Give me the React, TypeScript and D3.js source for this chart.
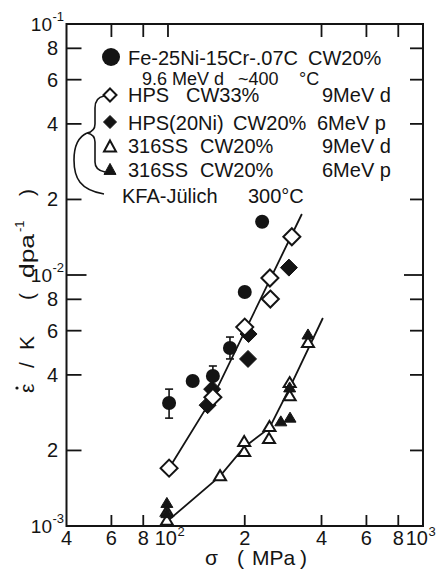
import React from 'react';
import * as d3 from 'd3';

const W = 436;
const H = 571;

// axis ticks
const xTickValues = [40, 60, 80, 100, 200, 400, 600, 800, 1000];
const xTickText = ['4', '6', '8', '10', '2', '4', '6', '8', '10'];
const xTickExp = ['', '', '', '2', '', '', '', '', '3'];
const xBottomMarks = [60, 80, 100, 200, 400, 600, 800];
const xTopMarks = [60, 80, 100, 400, 600, 800];

const yTickValues = [1e-3, 2e-3, 4e-3, 6e-3, 8e-3, 1e-2, 2e-2, 4e-2, 6e-2, 8e-2, 1e-1];
const yTickText = ['10', '2', '4', '6', '8', '10', '2', '4', '6', '8', '10'];
const yTickExp = ['-3', '', '', '', '', '-2', '', '', '', '', '-1'];
const yMarks = [2e-3, 4e-3, 6e-3, 8e-3, 1e-2, 2e-2, 4e-2, 6e-2, 8e-2];

// Fe-25Ni-15Cr-.07C CW20% (filled circles)
const feX = [101, 125, 150, 175, 200, 234];
const feY = [3.09e-3, 3.78e-3, 3.96e-3, 5.12e-3, 8.56e-3, 16.3e-3];
const feErrLo = [2.69e-3, 0, 3.55e-3, 4.63e-3, 0, 0];
const feErrHi = [3.51e-3, 0, 4.34e-3, 5.66e-3, 0, 0];

// HPS CW33% 9MeV d (open diamonds)
const hpsX = [101, 150, 200, 251, 252, 306];
const hpsY = [1.7e-3, 3.26e-3, 6.2e-3, 9.73e-3, 8.02e-3, 14.2e-3];

// HPS(20Ni) CW20% 6MeV p (filled diamonds)
const hps20X = [143, 149, 207, 206, 298];
const hps20Y = [3.03e-3, 3.51e-3, 5.82e-3, 4.63e-3, 10.7e-3];

// 316SS CW20% 9MeV d (open triangles)
const ss9X = [99, 99, 160, 199, 199, 249, 250, 300, 300, 354];
const ss9Y = [1.05e-3, 1.14e-3, 1.58e-3, 1.97e-3, 2.16e-3, 2.22e-3, 2.48e-3, 3.71e-3, 3.29e-3, 5.36e-3];

// 316SS CW20% 6MeV p (filled triangles)
const ss6X = [99, 99, 300, 277, 301, 354];
const ss6Y = [1.23e-3, 1.12e-3, 3.55e-3, 2.6e-3, 2.69e-3, 5.77e-3];

// fitted lines
const hpsLineX = [101, 150, 335];
const hpsLineY = [1.7e-3, 3.26e-3, 17.5e-3];
const ssLineX = [100, 160, 199, 250, 300, 405];
const ssLineY = [1.05e-3, 1.58e-3, 2.06e-3, 2.46e-3, 3.55e-3, 6.74e-3];

const FONT = '"Liberation Sans", Arial, sans-serif';
const INK = '#141414';

const diamond = (cx: number, cy: number, r: number) =>
  `M${cx},${cy - r}L${cx + r},${cy}L${cx},${cy + r}L${cx - r},${cy}Z`;
const tri = (cx: number, cy: number, w: number, h: number) =>
  `M${cx},${cy - h * 0.6}L${cx + w / 2},${cy + h * 0.4}L${cx - w / 2},${cy + h * 0.4}Z`;

export default function App() {
  const x = d3.scaleLog().domain([40, 1000]).range([66.5, 423]);
  const y = d3.scaleLog().domain([1e-3, 1e-1]).range([526, 24]);
  const line = d3
    .line<[number, number]>()
    .x((d) => x(d[0]))
    .y((d) => y(d[1]));

  const hpsLine = hpsLineX.map((v, i) => [v, hpsLineY[i]] as [number, number]);
  const ssLine = ssLineX.map((v, i) => [v, ssLineY[i]] as [number, number]);

  const left = x(40);
  const right = x(1000);
  const top = y(1e-1);
  const bottom = y(1e-3);

  return (
    <svg
      width={W}
      height={H}
      viewBox={`0 0 ${W} ${H}`}
      style={{ position: 'absolute', left: 0, top: 0, background: '#fff' }}
      fontFamily={FONT}
    >
      <rect x={0} y={0} width={W} height={H} fill="#fff" />
      {/* frame */}
      <rect x={left} y={top} width={right - left} height={bottom - top} fill="none" stroke={INK} strokeWidth={2} />

      {/* x ticks */}
      {xBottomMarks.map((v) => (
        <line key={'xb' + v} x1={x(v)} x2={x(v)} y1={bottom} y2={bottom - 11} stroke={INK} strokeWidth={1.8} />
      ))}
      {xTopMarks.map((v) => (
        <line key={'xt' + v} x1={x(v)} x2={x(v)} y1={top} y2={top + 13} stroke={INK} strokeWidth={1.8} />
      ))}
      {xTickValues.map((v, i) => {
        const exp = xTickExp[i];
        if (!exp) {
          return (
            <text key={'xl' + i} x={x(v)} y={545} fontSize={20} textAnchor="middle" fill={INK}>
              {xTickText[i]}
            </text>
          );
        }
        const off = v === 1000 ? 5 : 9;
        return (
          <g key={'xl' + i}>
            <text x={x(v) + off} y={545} fontSize={20} textAnchor="end" fill={INK}>
              {xTickText[i]}
            </text>
            <text x={x(v) + off + 0.5} y={536} fontSize={13} textAnchor="start" fill={INK}>
              {exp}
            </text>
          </g>
        );
      })}

      {/* y ticks */}
      {yMarks.map((v) => {
        const long = v === 1e-2;
        return (
          <g key={'ym' + v}>
            <line x1={left} x2={left + (long ? 20 : 15)} y1={y(v)} y2={y(v)} stroke={INK} strokeWidth={1.8} />
            <line x1={right} x2={right - (long ? 19 : 13)} y1={y(v)} y2={y(v)} stroke={INK} strokeWidth={1.8} />
          </g>
        );
      })}
      {yTickValues.map((v, i) => {
        const exp = yTickExp[i];
        if (!exp) {
          return (
            <text key={'yl' + i} x={58} y={y(v) + 7} fontSize={20} textAnchor="end" fill={INK}>
              {yTickText[i]}
            </text>
          );
        }
        return (
          <g key={'yl' + i}>
            <text x={52} y={y(v) + 7} fontSize={19} textAnchor="end" fill={INK}>
              {yTickText[i]}
            </text>
            <text x={52.5} y={y(v) - 3} fontSize={13} textAnchor="start" fill={INK}>
              {exp}
            </text>
          </g>
        );
      })}

      {/* y axis title, pieces along the rotated baseline */}
      <g transform="translate(34,0) rotate(-90)" fontSize={21} fill={INK}>
        <text x={-393}>ε</text>
        <circle cx={-388} cy={-17} r={1.6} fill={INK} />
        <text x={-368}>/</text>
        <text x={-350}>K</text>
        <text x={-300}>(</text>
        <text x={-278} textLength={44} lengthAdjust="spacingAndGlyphs">dpa</text>
        <text x={-232} y={-10} fontSize={13}>-1</text>
        <text x={-196}>)</text>
      </g>
      {/* x axis title */}
      <g fontSize={21} fill={INK}>
        <text x={205} y={565}>σ</text>
        <text x={237} y={565}>(</text>
        <text x={252} y={565}>MPa</text>
        <text x={300} y={565}>)</text>
      </g>

      {/* fitted lines */}
      <path d={line(hpsLine) || ''} fill="none" stroke={INK} strokeWidth={1.8} />
      <path d={line(ssLine) || ''} fill="none" stroke={INK} strokeWidth={1.8} />

      {/* filled diamonds */}
      {hps20X.map((v, i) => (
        <path key={'fd' + i} d={diamond(x(v), y(hps20Y[i]), 8.5)} fill={INK} stroke={INK} strokeWidth={1} />
      ))}
      {/* open diamonds */}
      {hpsX.map((v, i) => (
        <path key={'od' + i} d={diamond(x(v), y(hpsY[i]), 8.5)} fill="#fff" stroke={INK} strokeWidth={2} />
      ))}
      {/* error bars */}
      {feX.map((v, i) =>
        feErrLo[i] > 0 ? (
          <g key={'eb' + i} stroke={INK} strokeWidth={1.6}>
            <line x1={x(v)} x2={x(v)} y1={y(feErrLo[i])} y2={y(feErrHi[i])} />
            <line x1={x(v) - 4} x2={x(v) + 4} y1={y(feErrLo[i])} y2={y(feErrLo[i])} />
            <line x1={x(v) - 4} x2={x(v) + 4} y1={y(feErrHi[i])} y2={y(feErrHi[i])} />
          </g>
        ) : null
      )}
      {/* filled circles */}
      {feX.map((v, i) => (
        <circle key={'fc' + i} cx={x(v)} cy={y(feY[i])} r={7} fill={INK} />
      ))}
      {/* open triangles */}
      {ss9X.map((v, i) => (
        <path key={'ot' + i} d={tri(x(v), y(ss9Y[i]), 12, 10)} fill="#fff" stroke={INK} strokeWidth={2} />
      ))}
      {/* filled triangles */}
      {ss6X.map((v, i) => (
        <path key={'ft' + i} d={tri(x(v), y(ss6Y[i]), 12, 10)} fill={INK} stroke={INK} strokeWidth={1} />
      ))}

      {/* legend */}
      <g fill={INK} fontSize={20}>
        <circle cx={111} cy={57} r={9} fill={INK} />
        <text x={128} y={65}>Fe-25Ni-15Cr-.07C</text>
        <text x={308} y={65}>CW20%</text>
        <text x={142} y={85} fontSize={18}>9.6 MeV d</text>
        <text x={238} y={85} fontSize={18}>~400</text>
        <text x={299} y={85} fontSize={18}>°C</text>

        <path d={diamond(110, 95, 6.5)} fill="#fff" stroke={INK} strokeWidth={2} />
        <text x={128} y={102}>HPS</text>
        <text x={186} y={102}>CW33%</text>
        <text x={322} y={102}>9MeV d</text>

        <path d={diamond(110, 122, 6.5)} fill={INK} stroke={INK} strokeWidth={1} />
        <text x={128} y={130}>HPS(20Ni)</text>
        <text x={233} y={130}>CW20%</text>
        <text x={317} y={130}>6MeV p</text>

        <path d={tri(110, 147, 12, 11)} fill="#fff" stroke={INK} strokeWidth={2} />
        <text x={128} y={153}>316SS</text>
        <text x={200} y={153}>CW20%</text>
        <text x={322} y={153}>9MeV d</text>

        <path d={tri(110, 170, 12, 11)} fill={INK} stroke={INK} strokeWidth={1} />
        <text x={128} y={177}>316SS</text>
        <text x={200} y={177}>CW20%</text>
        <text x={322} y={177}>6MeV p</text>

        <text x={122} y={203}>KFA-Jülich</text>
        <text x={248} y={203}>300°C</text>
      </g>
      {/* brace */}
      <path
        d="M104,96 C98,97 95,101 95,108 L95,124 C95,130 92,132 87,133 C92,134 95,136 95,142 L95,162 C95,168 99,171 105,172"
        fill="none"
        stroke={INK}
        strokeWidth={1.6}
      />
      <path
        d="M87,133 C78,137 74,146 74,160 C74,178 80,190 104,194"
        fill="none"
        stroke={INK}
        strokeWidth={1.6}
      />
    </svg>
  );
}
